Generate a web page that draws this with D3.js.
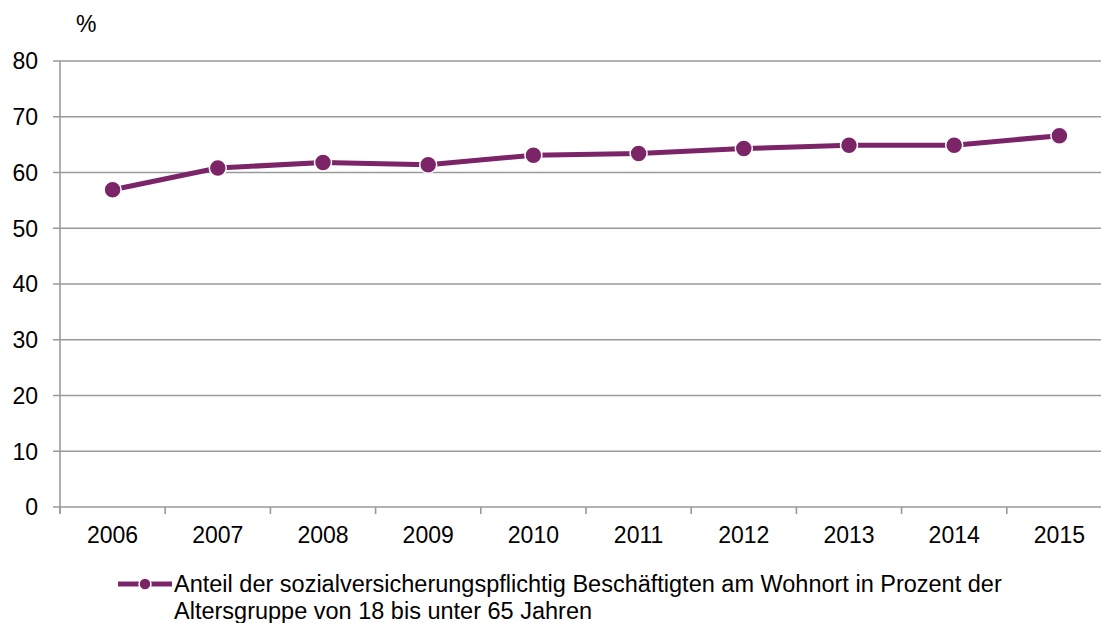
<!DOCTYPE html>
<html>
<head>
<meta charset="utf-8">
<script src="https://cdn.jsdelivr.net/npm/d3@7"></script>
<style>
  html, body { margin: 0; padding: 0; background: #fff; }
  svg text { font-family: "Liberation Sans", Arial, sans-serif; fill: #000; }
</style>
</head>
<body>
<svg id="chart" width="1101" height="623"></svg>
<script>
const years = ["2006", "2007", "2008", "2009", "2010", "2011", "2012", "2013", "2014", "2015"];
const shares = [56.9, 60.8, 61.8, 61.4, 63.1, 63.4, 64.3, 64.9, 64.9, 66.6];
const yTicks = [0, 10, 20, 30, 40, 50, 60, 70, 80];
const legendLines = [
  "Anteil der sozialversicherungspflichtig Beschäftigten am Wohnort in Prozent der",
  "Altersgruppe von 18 bis unter 65 Jahren"
];

const svg = d3.select("#chart");
const plotLeft = 60, plotRight = 1112, plotTop = 61, plotBottom = 507;
const lineColor = "#7b2468";
const gridColor = "#9a9a9a";
const tickFont = 23;

const x = d3.scaleBand().domain(years).range([plotLeft, plotRight]);
const y = d3.scaleLinear().domain([0, 80]).range([plotBottom, plotTop]);

// horizontal gridlines
svg.append("g")
  .selectAll("line")
  .data(yTicks)
  .join("line")
  .attr("x1", plotLeft - 7)
  .attr("x2", 1101)
  .attr("y1", d => y(d))
  .attr("y2", d => y(d))
  .attr("stroke", gridColor)
  .attr("stroke-width", 1.6);

// y axis line
svg.append("line")
  .attr("x1", plotLeft).attr("x2", plotLeft)
  .attr("y1", plotTop).attr("y2", plotBottom + 6)
  .attr("stroke", gridColor).attr("stroke-width", 1.6);

// y tick labels
svg.append("g")
  .selectAll("text")
  .data(yTicks)
  .join("text")
  .attr("x", 38)
  .attr("y", d => y(d))
  .attr("dy", "0.36em")
  .attr("text-anchor", "end")
  .attr("font-size", tickFont)
  .text(d => d);

// x axis tick marks at band boundaries
const boundaries = years.map(d => x(d));
svg.append("g")
  .selectAll("line")
  .data(boundaries)
  .join("line")
  .attr("x1", d => d).attr("x2", d => d)
  .attr("y1", plotBottom).attr("y2", plotBottom + 7)
  .attr("stroke", gridColor).attr("stroke-width", 1.6);

// x tick labels
svg.append("g")
  .selectAll("text")
  .data(years)
  .join("text")
  .attr("x", d => x(d) + x.bandwidth() / 2)
  .attr("y", 543)
  .attr("text-anchor", "middle")
  .attr("font-size", tickFont)
  .text(d => d);

// unit label
svg.append("text")
  .attr("x", 76).attr("y", 32)
  .attr("font-size", tickFont)
  .text("%");

// data line
const pts = years.map((yr, i) => [x(yr) + x.bandwidth() / 2, y(shares[i])]);
svg.append("path")
  .attr("d", d3.line()(pts))
  .attr("fill", "none")
  .attr("stroke", lineColor)
  .attr("stroke-width", 5);

svg.append("g")
  .selectAll("circle")
  .data(pts)
  .join("circle")
  .attr("cx", d => d[0])
  .attr("cy", d => d[1])
  .attr("r", 8.5)
  .attr("fill", lineColor)
  .attr("stroke", "#fff")
  .attr("stroke-width", 1.5);

// legend
const lg = svg.append("g");
lg.append("line")
  .attr("x1", 118).attr("x2", 172)
  .attr("y1", 584).attr("y2", 584)
  .attr("stroke", lineColor).attr("stroke-width", 5);
lg.append("circle")
  .attr("cx", 145).attr("cy", 584).attr("r", 6)
  .attr("fill", lineColor).attr("stroke", "#fff").attr("stroke-width", 1.5);
lg.selectAll("text")
  .data(legendLines)
  .join("text")
  .attr("x", 174)
  .attr("y", (d, i) => 592 + i * 27)
  .attr("font-size", 23.5)
  .text(d => d);
</script>
</body>
</html>
